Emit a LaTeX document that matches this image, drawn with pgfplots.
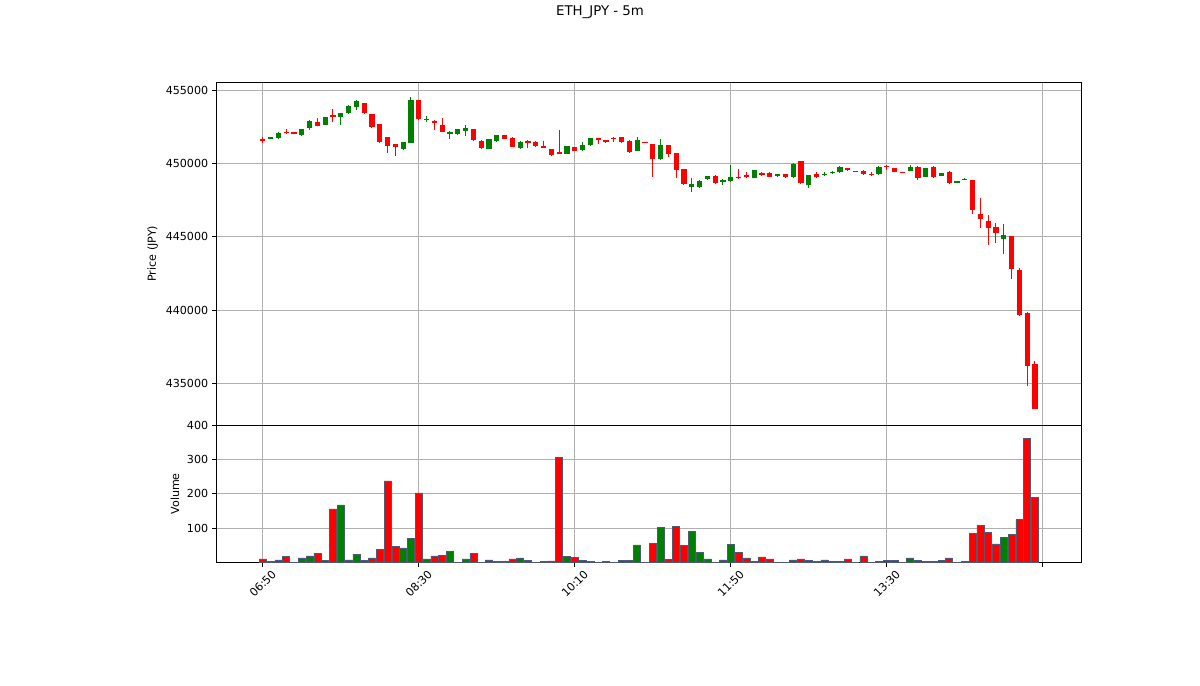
\documentclass[border=0pt]{standalone}
\usepackage{fontspec}
\setmainfont{DejaVu Sans}
\usepackage{pgfplots}
\usepackage{pgfplotstable}
\pgfplotsset{compat=1.18}
\definecolor{cgreen}{HTML}{008000}
\definecolor{cred}{HTML}{FF0000}
\definecolor{cgrid}{HTML}{B0B0B0}
\definecolor{cedge}{HTML}{4C5A78}

\pgfplotsset{
  panel/.style={
    scale only axis, width=778.5pt,
    xmin=-6.0, xmax=104.9,
    xtick={0,20,40,60,80,100},
    xmajorgrids, ymajorgrids,
    grid style={cgrid, line width=0.8pt},
    axis line style={line width=0.8pt},
    tick align=outside, major tick length=3.5pt,
    tick style={black, line width=0.8pt},
    ytick pos=left, xtick pos=bottom,
    /pgf/number format/assume math mode=true,
    tick label style={font=\fontsize{10}{12}\selectfont},
    label style={font=\fontsize{10}{12}\selectfont},
  },
  wick/.style={draw=none, mark=none, forget plot,
    error bars/y dir=both, error bars/y explicit, error bars/error mark=none,
    error bars/error bar style={draw=#1, line width=0.9pt}},
  body/.style={draw=none, mark=none, forget plot,
    error bars/y dir=both, error bars/y explicit, error bars/error mark=none,
    error bars/error bar style={draw=#1, line width=4.8pt}},
  vol/.style={ybar, bar width=0.9, bar shift=0pt, fill=#1, draw=cedge,
    line width=0.4pt, forget plot},
}

% 5-minute candles from 06:50; i = candle index (0 = 06:50)
% rising candles
\pgfplotstableread{
i  o      h      l      c      v
1  451675 451826 451655 451791 3
2  451703 452133 451655 452085 8
5  451928 452372 451894 452338 14
6  452385 452952 452269 452904 20
8  452631 453191 452611 453157 6
10 453177 453430 452590 453409 168
11 453409 453976 453361 453928 8
12 453819 454317 453634 454270 25
18 450952 451484 450904 451430 43
19 451402 454502 451382 454317 71
21 452986 453225 452815 453041 11
24 451996 452221 451655 452112 33
25 451976 452372 451928 452317 2
26 452221 452631 451880 452406 11
29 450993 451689 450972 451655 8
30 451539 451962 451484 451907 3
33 451020 451518 450972 451471 14
39 450651 451211 450631 451177 18
41 450904 451471 450870 451245 6
42 451225 451723 451177 451703 3
48 450856 451812 450836 451587 52
51 450269 451634 450221 451245 103
55 448399 449013 448058 448563 90
56 448378 448856 448344 448808 30
57 448904 449163 448856 449129 11
59 448740 448945 448515 448856 8
60 448788 449880 448754 449081 54
63 449013 449573 448993 449539 3
66 449129 449300 449061 449245 0.5
68 449041 449996 449013 449948 8
70 448515 449218 448290 449198 6
72 449245 449402 449129 449286 8
73 449354 449505 449266 449402 3
74 449402 449791 449368 449764 3
76 449450 449505 449436 449491 0
79 449266 449791 449232 449764 3
83 449491 449880 449471 449764 14
85 449081 449675 449061 449655 3
87 449150 449334 449129 449314 6
89 448733 448788 448720 448774 0.5
90 448904 448972 448890 448945 3
95 444829 445832 443805 445102 73
}\upcandles

% falling candles
\pgfplotstableread{
i  o      h      l      c      v
0  451655 451791 451382 451587 11
3  452167 452338 452017 452099 18
4  452133 452167 452030 452064 1
7  452795 453109 452542 452563 28
9  453314 453703 452836 453136 156
13 454092 454146 453361 453409 6
14 453341 453396 452440 452474 14
15 452658 452679 451382 451430 38
16 451771 451791 450720 451177 238
17 451314 451348 450515 451129 48
20 454317 454351 452952 453000 203
22 452904 452952 452269 452768 20
23 452631 453109 452133 452153 22
27 452317 452372 451518 451587 28
28 451539 451587 450972 451020 0.5
31 451907 451928 451655 451675 3
32 451744 451791 451109 451129 11
34 451539 451566 451061 451402 6
35 451471 451498 451143 451177 1
36 451198 451539 451041 451061 3
37 450952 450972 450494 450542 5
38 450768 452269 450631 450651 305
40 451109 451143 450836 450856 16
43 451703 451723 451293 451587 1
44 451559 451587 451382 451518 4
45 451744 451771 451450 451655 1
46 451771 451791 451402 451430 6
47 451539 451566 450699 450747 6
49 451450 451471 451382 451402 0.5
50 451314 451348 449041 450269 57
52 451245 451280 450406 450611 10
53 450679 450699 448972 449539 105
54 449607 449641 448515 448563 50
58 449150 449177 448583 448631 0.5
61 449081 449587 448959 448993 30
62 449198 449402 448993 449041 14
64 449354 449402 449163 449198 17
65 449354 449382 449040 449061 11
67 449266 449300 449013 449041 0.5
69 450153 450174 448604 448631 11
71 449266 449423 449013 449041 3
75 449655 449709 449505 449539 11
77 449491 449518 449232 449266 20
78 449286 449382 449150 449245 0.5
80 449846 449866 449539 449812 6
81 449655 449675 449402 449423 6
82 449402 449436 449334 449361 0.5
84 449764 449791 448856 448972 6
86 449764 449791 449013 449041 3
88 449423 449450 448604 448631 14
91 448856 448877 446515 446808 86
92 446515 447607 445600 446194 108
93 446078 446467 444419 445559 88
94 445628 445901 444535 445259 55
96 445034 445054 442146 442761 83
97 442713 442829 439621 439641 125
98 439825 439846 434795 436180 361
99 436344 436522 433245 433272 189
}\downcandles

\begin{document}
\begin{tikzpicture}
\path (0pt,0pt) rectangle (1080pt,617.4pt);
\node[font=\fontsize{12}{14}\selectfont] at (540pt,606.15pt) {ETH\_JPY - 5m};

\begin{axis}[panel, at={(194.4pt,234.9pt)}, anchor=south west,
  height=308.43pt, ymin=432156, ymax=455525,
  ytick={435000,440000,445000,450000,455000},
  scaled y ticks=false,
  yticklabel style={/pgf/number format/.cd, fixed, 1000 sep={}},
  xmajorticks=false,
  ylabel={Price (JPY)}]
\addplot[wick=cgreen] table[x=i,
  y expr={(\thisrow{h}+\thisrow{l})/2},
  y error expr={(\thisrow{h}-\thisrow{l})/2}] {\upcandles};
\addplot[wick=cred] table[x=i,
  y expr={(\thisrow{h}+\thisrow{l})/2},
  y error expr={(\thisrow{h}-\thisrow{l})/2}] {\downcandles};
\addplot[body=cgreen] table[x=i,
  y expr={(\thisrow{o}+\thisrow{c})/2},
  y error expr={(\thisrow{c}-\thisrow{o})/2}] {\upcandles};
\addplot[body=cred] table[x=i,
  y expr={(\thisrow{o}+\thisrow{c})/2},
  y error expr={(\thisrow{o}-\thisrow{c})/2}] {\downcandles};
\end{axis}

\begin{axis}[panel, at={(194.4pt,110.97pt)}, anchor=south west,
  height=123.93pt, ymin=0, ymax=400,
  ytick={100,200,300,400},
  xticklabels={06:50,08:30,10:10,11:50,13:30,{}},
  xticklabel style={anchor=center, yshift=-15.2pt, rotate=45},
  ylabel={Volume}]
\addplot[vol=cgreen] table[x=i, y=v] {\upcandles};
\addplot[vol=cred] table[x=i, y=v] {\downcandles};
\end{axis}
\end{tikzpicture}
\end{document}
